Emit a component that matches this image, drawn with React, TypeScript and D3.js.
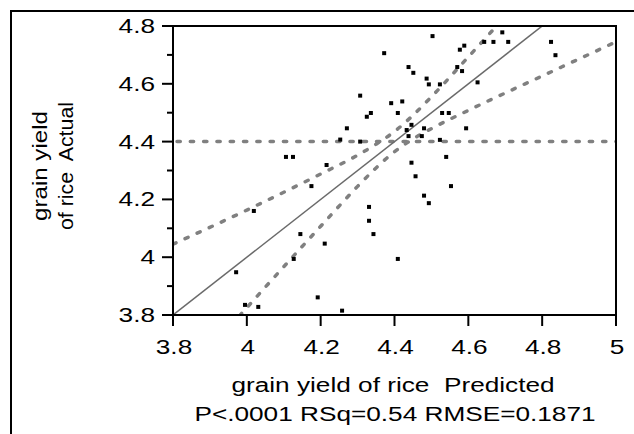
import React, { useEffect, useRef } from 'react';
import * as d3 from 'd3';

// predicted vs actual grain yield of rice
const predicted = [
  4.372, 4.307, 4.391, 4.325, 4.336, 4.409, 4.271, 4.253, 4.307, 4.106,
  4.125, 4.216, 4.503, 4.692, 4.643, 4.668, 4.708, 4.824, 4.836, 4.577,
  4.589, 4.438, 4.451, 4.570, 4.583, 4.487, 4.493, 4.523, 4.625, 4.421,
  4.529, 4.547, 4.446, 4.433, 4.480, 4.438, 4.474, 4.523, 4.594, 4.540,
  4.446, 4.457, 4.480, 4.493, 4.331, 4.331, 4.553, 4.175, 4.019, 4.145,
  4.211, 4.127, 3.971, 3.995, 4.031, 4.192, 4.258, 4.343, 4.409,
];
const actual = [
  4.706, 4.559, 4.533, 4.486, 4.499, 4.499, 4.446, 4.407, 4.400, 4.347,
  4.347, 4.319, 4.765, 4.778, 4.745, 4.745, 4.745, 4.745, 4.699, 4.718,
  4.732, 4.658, 4.638, 4.658, 4.644, 4.618, 4.598, 4.598, 4.605, 4.539,
  4.499, 4.499, 4.458, 4.440, 4.446, 4.419, 4.419, 4.406, 4.446, 4.347,
  4.327, 4.280, 4.213, 4.187, 4.174, 4.126, 4.246, 4.246, 4.160, 4.080,
  4.047, 3.994, 3.948, 3.835, 3.828, 3.861, 3.815, 4.080, 3.994,
];

const xTicks = [3.8, 4, 4.2, 4.4, 4.6, 4.8, 5];
const yTicks = [3.8, 4, 4.2, 4.4, 4.6, 4.8];
const yMinorTicks = [3.9, 4.1, 4.3, 4.5, 4.7];
const meanActual = 4.4;
const fitLine: [number, number][] = [[3.8, 3.8], [5, 5]];
const upperCurve: [number, number][] = [
  [3.8, 4.045], [4.0, 4.163], [4.2, 4.288], [4.3, 4.353], [4.35, 4.391],
  [4.4, 4.435], [4.45, 4.491], [4.5, 4.555], [4.6, 4.693], [4.68, 4.805],
];
const lowerCurve: [number, number][] = [
  [3.98, 3.797], [4.1, 3.967], [4.2, 4.107], [4.3, 4.245], [4.35, 4.309],
  [4.4, 4.365], [4.45, 4.409], [4.5, 4.445], [4.6, 4.508], [4.8, 4.627], [5.0, 4.745],
];

const App = () => {
  const ref = useRef<SVGSVGElement>(null);

  useEffect(() => {
    const w = 634;
    const h = 434;
    const left = 173, right = 616, top = 26, bottom = 315;
    const sx = 1.31; // text in the source is stretched sideways
    const font = 'Liberation Sans, Arial, sans-serif';

    const svg = d3.select(ref.current);
    svg.selectAll('*').remove();

    const x = d3.scaleLinear().domain([3.8, 5]).range([left, right]);
    const y = d3.scaleLinear().domain([3.8, 4.8]).range([bottom, top]);

    // outer frame
    svg.append('line').attr('x1', 11).attr('x2', w).attr('y1', 11).attr('y2', 11)
      .attr('stroke', '#000').attr('stroke-width', 2);
    svg.append('line').attr('x1', 11).attr('x2', 11).attr('y1', 10).attr('y2', h)
      .attr('stroke', '#000').attr('stroke-width', 2);

    svg.append('clipPath').attr('id', 'plotclip')
      .append('rect').attr('x', left).attr('y', top)
      .attr('width', right - left).attr('height', bottom - top);

    const plot = svg.append('g').attr('clip-path', 'url(#plotclip)');

    const line = d3.line<[number, number]>()
      .x(d => x(d[0]))
      .y(d => y(d[1]));

    // mean line
    plot.append('line')
      .attr('x1', left + 4).attr('x2', right)
      .attr('y1', y(meanActual)).attr('y2', y(meanActual))
      .attr('stroke', '#808080').attr('stroke-width', 3.5)
      .attr('stroke-linecap', 'round').attr('stroke-dasharray', '3.3 10');

    // confidence curves
    [upperCurve, lowerCurve].forEach(c => {
      plot.append('path')
        .attr('d', line.curve(d3.curveMonotoneX)(c))
        .attr('fill', 'none')
        .attr('stroke', '#808080').attr('stroke-width', 3.5)
        .attr('stroke-linecap', 'round').attr('stroke-dasharray', '3.3 10');
    });

    // fit line
    plot.append('path')
      .attr('d', line.curve(d3.curveLinear)(fitLine))
      .attr('fill', 'none').attr('stroke', '#6a6a6a').attr('stroke-width', 1.5);

    // points
    plot.selectAll('rect.pt')
      .data(predicted)
      .enter()
      .append('rect')
      .attr('class', 'pt')
      .attr('x', d => x(d) - 2)
      .attr('y', (d, i) => y(actual[i]) - 2)
      .attr('width', 4)
      .attr('height', 4)
      .attr('fill', '#000');

    // plot box
    svg.append('rect')
      .attr('x', left).attr('y', top)
      .attr('width', right - left).attr('height', bottom - top)
      .attr('fill', 'none').attr('stroke', '#000').attr('stroke-width', 2);

    // x ticks
    svg.selectAll('line.xt').data(xTicks).enter().append('line')
      .attr('x1', d => x(d)).attr('x2', d => x(d))
      .attr('y1', bottom).attr('y2', bottom + 11)
      .attr('stroke', '#000').attr('stroke-width', 2);
    svg.selectAll('text.xl').data(xTicks).enter().append('text')
      .attr('transform', d => `translate(${x(d) + 1},354) scale(${sx},1)`)
      .attr('text-anchor', 'middle')
      .style('font-family', font)
      .style('font-size', '20px')
      .text(d => d3.format('')(d));

    // y ticks
    svg.selectAll('line.yt').data(yTicks).enter().append('line')
      .attr('x1', left - 11).attr('x2', left)
      .attr('y1', d => y(d)).attr('y2', d => y(d))
      .attr('stroke', '#000').attr('stroke-width', 2);
    svg.selectAll('line.ym').data(yMinorTicks).enter().append('line')
      .attr('x1', left - 6).attr('x2', left)
      .attr('y1', d => y(d)).attr('y2', d => y(d))
      .attr('stroke', '#000').attr('stroke-width', 2);
    svg.selectAll('text.yl').data(yTicks).enter().append('text')
      .attr('transform', d => `translate(155,${y(d) + 7}) scale(${sx},1)`)
      .attr('text-anchor', 'end')
      .style('font-family', font)
      .style('font-size', '20px')
      .text(d => d3.format('')(d));

    // axis titles
    const xt = svg.append('g')
      .style('font-family', font)
      .style('font-size', '20px')
      .attr('text-anchor', 'middle');
    xt.append('text').attr('transform', `translate(393,392) scale(${sx},1)`)
      .attr('xml:space', 'preserve')
      .text('grain yield of rice  Predicted');
    xt.append('text').attr('transform', `translate(395,421) scale(${sx},1)`)
      .text('P<.0001 RSq=0.54 RMSE=0.1871');

    const yt = svg.append('g')
      .style('font-family', font)
      .style('font-size', '20px')
      .attr('text-anchor', 'middle');
    yt.append('text').attr('transform', 'translate(47,166) rotate(-90)')
      .attr('textLength', 110).attr('lengthAdjust', 'spacingAndGlyphs')
      .text('grain yield');
    yt.append('text').attr('transform', 'translate(73,166) rotate(-90)')
      .attr('textLength', 128).attr('lengthAdjust', 'spacingAndGlyphs')
      .attr('xml:space', 'preserve')
      .text('of rice  Actual');
  }, []);

  return (
    <svg ref={ref} width={634} height={434}
      style={{ position: 'absolute', left: 0, top: 0, background: '#fff' }} />
  );
};

export default App;
